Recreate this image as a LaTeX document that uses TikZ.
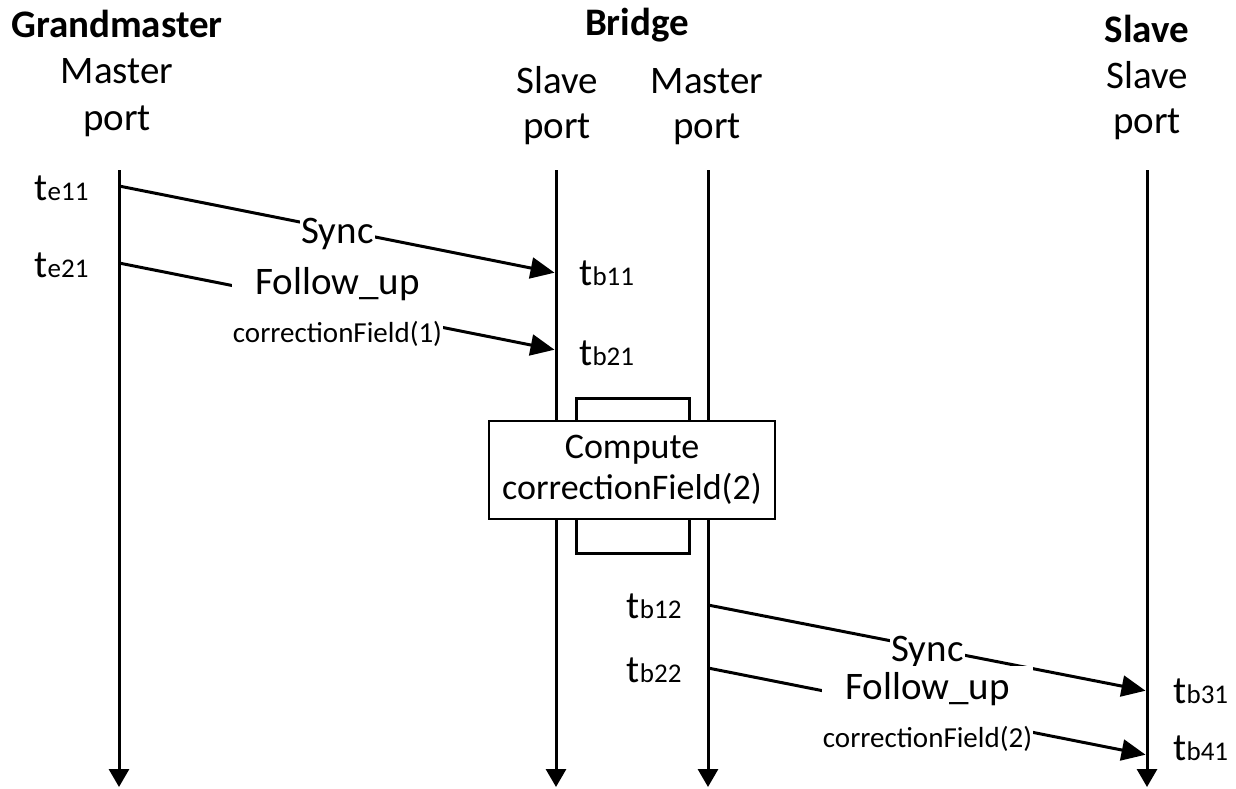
\documentclass[tikz,border=0pt]{standalone}
\usepackage{fontspec}
\setmainfont{Carlito}
\usetikzlibrary{arrows.meta}
\newcommand{\tstamp}[1]{t{\fontsize{27}{27}\selectfont #1}}

\begin{document}
\begin{tikzpicture}[x=1pt,y=-1pt,line width=3pt,
	life/.style={-{Triangle[length=18pt,width=20pt]}},
	msg/.style={-{Triangle[length=24pt,width=21pt]},shorten >=1.5pt},
	hdr/.style={anchor=base,inner sep=0pt,font=\fontsize{39}{44}\selectfont},
	hdrbold/.style={hdr,font=\bfseries\fontsize{39}{44}\selectfont},
	stamp/.style={inner sep=0pt,font=\fontsize{39}{44}\selectfont},
	sync/.style={fill=white,inner sep=1pt,yshift=-4pt,font=\fontsize{39}{44}\selectfont},
	fup/.style={fill=white,align=center,inner xsep=1pt,inner ysep=6pt,font=\fontsize{39}{48}\selectfont},
	compute/.style={draw,fill=white,line width=1.5pt,minimum width=286pt,minimum height=98pt,align=center,font=\fontsize{36}{41}\selectfont}]
	\useasboundingbox (0,0) rectangle (1236,788);
	
	% column heads
	\node[hdrbold] (gm)   at (117,37)   {Grandmaster};
	\node[hdr]     (gmp1) at (117,83)   {Master};
	\node[hdr]     (gmp2) at (117,130)  {port};
	\node[hdrbold] (br)   at (637,35)   {Bridge};
	\node[hdr]     (bsp1) at (557,93)   {Slave};
	\node[hdr]     (bsp2) at (557,138)  {port};
	\node[hdr]     (bmp1) at (707,93)   {Master};
	\node[hdr]     (bmp2) at (707,138)  {port};
	\node[hdrbold] (sl)   at (1147,42)  {Slave};
	\node[hdr]     (slp1) at (1147,88)  {Slave};
	\node[hdr]     (slp2) at (1147,133) {port};
	
	% lifelines
	\coordinate (gmT) at (119,170);
	\coordinate (gmB) at (119,787);
	\coordinate (bsT) at (556,170);
	\coordinate (bsB) at (556,787);
	\coordinate (bmT) at (708,170);
	\coordinate (bmB) at (708,787);
	\coordinate (slT) at (1147,170);
	\coordinate (slB) at (1147,787);
	\draw[life] (gmT) -- (gmB);
	\draw[life] (bsT) -- (bsB);
	\draw[life] (bmT) -- (bmB);
	\draw[life] (slT) -- (slB);
	
	% residence time in the bridge
	\node[draw,minimum width=113pt,minimum height=155pt] (proc) at (632.5,475.5) {};
	\node[compute] (corr) at (632,470) {Compute\\correctionField(2)};
	
	% message ends
	\coordinate (e11) at (119,186);
	\coordinate (b11) at (556,273);
	\coordinate (e21) at (119,263);
	\coordinate (b21) at (556,350);
	\coordinate (b12) at (708,605);
	\coordinate (b31) at (1147,691);
	\coordinate (b22) at (708,668);
	\coordinate (b41) at (1147,755);
	
	\path
	(e11) edge[msg] node[sync] {Sync} (b11)
	(e21) edge[msg] node[fup]  {Follow\_up\\{\fontsize{29}{29}\selectfont correctionField(1)}} (b21)
	(b12) edge[msg] node[sync] {Sync} (b31)
	(b22) edge[msg] node[fup]  {Follow\_up\\{\fontsize{29}{29}\selectfont correctionField(2)}} (b41);
	
	% time stamps
	\node[stamp,anchor=base east] (te11) at (90,200)   {\tstamp{e11}};
	\node[stamp,anchor=base east] (te21) at (90,277)   {\tstamp{e21}};
	\node[stamp,anchor=base west] (tb11) at (578,285)  {\tstamp{b11}};
	\node[stamp,anchor=base west] (tb21) at (578,365)  {\tstamp{b21}};
	\node[stamp,anchor=base east] (tb12) at (683,618)  {\tstamp{b12}};
	\node[stamp,anchor=base east] (tb22) at (683,682)  {\tstamp{b22}};
	\node[stamp,anchor=base west] (tb31) at (1172,703) {\tstamp{b31}};
	\node[stamp,anchor=base west] (tb41) at (1172,760) {\tstamp{b41}};
\end{tikzpicture}
\end{document}
